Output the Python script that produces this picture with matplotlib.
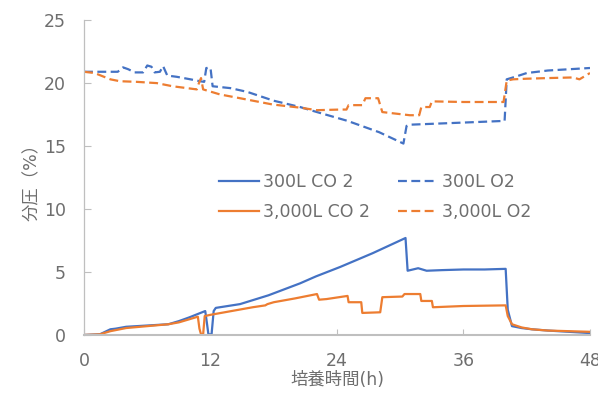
import matplotlib
matplotlib.use("Agg")
import matplotlib.pyplot as plt

plt.rcParams['font.family'] = ['DejaVu Sans', 'Noto Sans CJK JP']

# ---- data ----
t_co2_300 = [0, 1.5, 2.5, 3.0, 4, 6, 8, 9, 10, 11.5, 11.65, 11.8, 12.1, 12.3, 12.5,
             14.8, 17.5, 20.5, 22.0, 24.3, 27.4, 30.5, 30.7, 31.2, 31.7, 32.5, 34, 36, 38, 40,
             40.2, 40.6, 41.5, 42.5, 44, 46, 48]
v_co2_300 = [0, 0.05, 0.45, 0.5, 0.65, 0.75, 0.85, 1.1, 1.4, 1.9, 1.0, 0.05, 0.05, 1.9, 2.15,
             2.45, 3.15, 4.1, 4.65, 5.4, 6.5, 7.7, 5.1, 5.2, 5.3, 5.1, 5.15, 5.2, 5.2, 5.25,
             2.0, 0.7, 0.55, 0.45, 0.35, 0.25, 0.15]

t_co2_3000 = [0, 1.5, 2.5, 4, 6, 8, 9, 10, 10.8, 10.95, 11.1, 11.3, 11.45, 12, 14, 16, 17.2, 17.4,
              18, 20, 22.1, 22.3, 23, 25, 25.1, 26.3, 26.4, 28.1, 28.3, 30.2, 30.4, 31.9, 32.0,
              33.0, 33.1, 36, 40, 40.2, 40.6, 41.5, 42.5, 44, 46, 48]
v_co2_3000 = [0, 0.05, 0.3, 0.55, 0.7, 0.85, 1.0, 1.25, 1.45, 0.5, 0.05, 0.05, 1.5, 1.6, 1.9, 2.2,
              2.35, 2.45, 2.6, 2.9, 3.25, 2.8, 2.85, 3.1, 2.6, 2.6, 1.75, 1.8, 3.0, 3.05, 3.25,
              3.25, 2.7, 2.7, 2.2, 2.3, 2.35, 1.5, 0.85, 0.6, 0.45, 0.35, 0.3, 0.25]

t_o2_300 = [0, 3.2, 3.7, 4.2, 4.8, 5.6, 6.0, 6.4, 6.7, 7.2, 7.5, 7.9, 8.8, 10.1, 11.0, 11.4,
            11.6, 12.0, 12.2, 13.9, 15.5, 18, 20.5, 22.1, 25, 28, 30.3, 30.6, 31.0, 34, 37,
            39.9, 40.1, 40.9, 42, 44, 46, 48]
v_o2_300 = [20.9, 20.9, 21.25, 21.1, 20.85, 20.85, 21.4, 21.3, 20.85, 20.9, 21.35, 20.6, 20.5,
            20.3, 20.15, 20.1, 21.2, 21.2, 19.75, 19.6, 19.3, 18.6, 18.1, 17.7, 17.0, 16.1, 15.2,
            16.6, 16.7, 16.8, 16.9, 17.0, 20.3, 20.5, 20.8, 21.0, 21.1, 21.2]

t_o2_3000 = [0, 1.0, 2.5, 3.4, 5, 6.9, 8.4, 10.7, 10.9, 11.1, 11.3, 11.5, 12.9, 14.8, 17.9,
             20.5, 22.1, 24.3, 24.9, 25.1, 26.4, 26.7, 27.9, 28.3, 30.9, 31.0, 31.8, 32.0, 32.8,
             33.0, 36, 39.8, 40.1, 40.7, 42, 44, 46.4, 47, 48]
v_o2_3000 = [20.9, 20.8, 20.3, 20.15, 20.1, 20.0, 19.75, 19.5, 20.0, 20.4, 19.5, 19.45, 19.1,
             18.8, 18.3, 18.05, 17.85, 17.9, 17.9, 18.25, 18.25, 18.8, 18.8, 17.7, 17.45, 17.45,
             17.45, 18.1, 18.1, 18.55, 18.5, 18.5, 20.2, 20.3, 20.35, 20.4, 20.45, 20.3, 20.8]

labels = ["300L CO 2", "3,000L CO 2", "300L O2", "3,000L O2"]
x_ticks = [0, 12, 24, 36, 48]
y_ticks = [0, 5, 10, 15, 20, 25]

BLUE = "#4472C4"
ORANGE = "#ED7D31"
GREY = "#6E6E6E"

fig = plt.figure(figsize=(5.98, 3.95), dpi=100)
ax = fig.add_axes([0.1405, 0.152, 0.8461, 0.797])

dash = (0, (4, 2))
h1, = ax.plot(t_co2_300, v_co2_300, color=BLUE, lw=1.6)
h2, = ax.plot(t_co2_3000, v_co2_3000, color=ORANGE, lw=1.6)
h3, = ax.plot(t_o2_300, v_o2_300, color=BLUE, lw=1.6, linestyle=dash)
h4, = ax.plot(t_o2_3000, v_o2_3000, color=ORANGE, lw=1.6, linestyle=dash)

ax.set_xlim(0, 48)
ax.set_ylim(0, 25)
ax.set_xticks(x_ticks)
ax.set_yticks(y_ticks)

for s in ["top", "right"]:
    ax.spines[s].set_visible(False)
ax.spines["left"].set_color("#BFBFBF")
ax.spines["left"].set_linewidth(0.9)
ax.spines["bottom"].set_color("#BFBFBF")
ax.spines["bottom"].set_linewidth(1.5)

ax.tick_params(axis="y", direction="in", length=5, color="#BFBFBF", labelcolor=GREY,
               labelsize=12.5, pad=13)
ax.tick_params(axis="x", direction="in", length=4, color="#BFBFBF", labelcolor=GREY,
               labelsize=12.5, pad=12)

ax.set_ylabel("分圧（%）", color=GREY, fontsize=12.5, labelpad=2)
ax.set_xlabel("培養時間(h)", color=GREY, fontsize=12.5, labelpad=1)

leg = ax.legend([h1, h2, h3, h4], labels, ncol=2, frameon=False,
                loc="center", bbox_to_anchor=(0.627, 0.501), bbox_transform=fig.transFigure,
                fontsize=12.5, handlelength=2.3, handletextpad=0.25, columnspacing=1.6,
                labelspacing=0.7)
for txt in leg.get_texts():
    txt.set_color(GREY)

fig.savefig("out.png", dpi=100)
